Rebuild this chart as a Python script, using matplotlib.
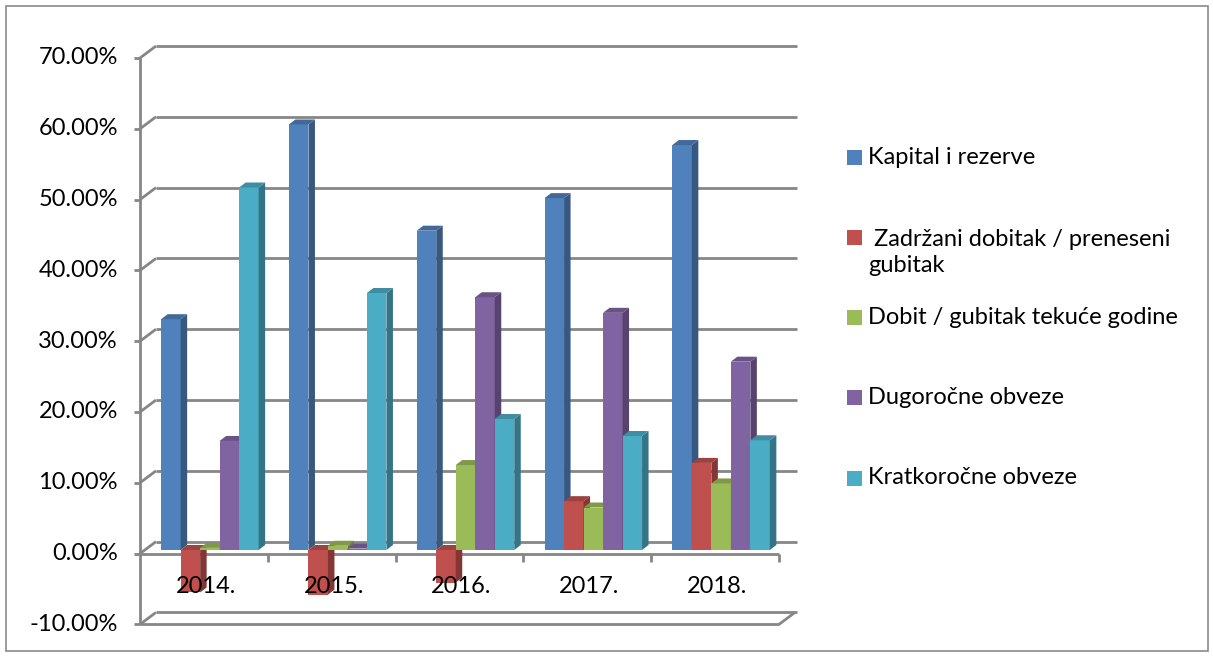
import matplotlib
matplotlib.use("Agg")
import matplotlib.pyplot as plt
from matplotlib.patches import Polygon, Rectangle
from matplotlib.colors import to_rgb

# data (percent)
years = ["2014.", "2015.", "2016.", "2017.", "2018."]
series_names = ["Kapital i rezerve",
                " Zadržani dobitak / preneseni\ngubitak",
                "Dobit / gubitak tekuće godine",
                "Dugoročne obveze",
                "Kratkoročne obveze"]
kapital = [32.6, 60.1, 45.1, 49.7, 57.2]
zadrzani = [-6.0, -6.3, -4.6, 6.9, 12.3]
dobit = [0.3, 0.6, 12.0, 6.0, 9.4]
dugorocne = [15.4, 0.2, 35.7, 33.5, 26.6]
kratkorocne = [51.2, 36.3, 18.5, 16.1, 15.5]
colors = ["#4F81BD", "#C0504D", "#9BBB59", "#8064A2", "#4BACC6"]
yticks = list(range(-10, 71, 10))

series = [kapital, zadrzani, dobit, dugorocne, kratkorocne]

plt.rcParams["font.family"] = ["Lato", "DejaVu Sans"]
FS = 17
TXT = "#000000"

W, H = 1213, 657
fig = plt.figure(figsize=(W / 100, H / 100), dpi=100)

# front plot area in pixels
left_px, right_px, top_px, bot_px = 140, 779, 58, 624.4
ax = fig.add_axes([left_px / W, (H - bot_px) / H,
                   (right_px - left_px) / W, (bot_px - top_px) / H])
ax.set_xlim(-0.5, 4.5)
ax.set_ylim(-10, 70)
ax.axis("off")

ppx = (right_px - left_px) / 5.0      # px per category
ppy = (bot_px - top_px) / 80.0        # px per percent


def ux(px):
    return px / ppx


def uy(px):
    return px / ppy


grid_kw = dict(color="#868686", lw=2.0, clip_on=False, solid_capstyle="butt")

# walls: back offset
bx, by = ux(16), uy(12)
x0, x1 = -0.5, 4.5
for v in yticks:
    ax.plot([x0, x0 + bx], [v, v + by], zorder=1, **grid_kw)
    ax.plot([x0 + bx, x1 + bx + ux(2)], [v + by, v + by], zorder=1, **grid_kw)
    ax.plot([x0 - ux(6), x0], [v, v], zorder=1, **grid_kw)
    ax.text(x0 - ux(22), v, f"{v:.2f}%", ha="right", va="center",
            fontsize=FS, color=TXT)

# vertical axis line
ax.plot([x0, x0], [-10, 70], zorder=1, **grid_kw)
# floor at -10
ax.plot([x0, x1], [-10, -10], zorder=1, **grid_kw)
ax.plot([x1, x1 + bx], [-10, -10 + by], zorder=1, **grid_kw)
# front line at 0 with category ticks
ax.plot([x0, x1], [0, 0], zorder=2, **grid_kw)
for k in range(1, 6):
    ax.plot([x0 + k, x0 + k], [0, -uy(8)], zorder=2, **grid_kw)

# bars with a fake 3d look
bw = ux(19.5)
sx, sy = ux(6.5), uy(5)
shift_x, shift_y = ux(6), uy(3.6)
n = len(series)
z = 3
for i, year in enumerate(years):
    for j, vals in enumerate(series):
        v = vals[i]
        c = to_rgb(colors[j])
        side = tuple(ch * 0.68 for ch in c)
        topc = tuple(ch * 0.82 for ch in c)
        xl = i - n * bw / 2 + j * bw + shift_x
        base = shift_y
        bars = ax.bar(xl, v, width=bw, bottom=base, align="edge",
                      color=colors[j], linewidth=0, zorder=z)
        r = bars[0]
        xr = r.get_x() + r.get_width()
        lo = min(base, base + v)
        hi = max(base, base + v)
        ax.add_patch(Polygon([(xr, lo), (xr + sx, lo + sy), (xr + sx, hi + sy), (xr, hi)],
                             closed=True, facecolor=side, edgecolor="none", zorder=z))
        ax.add_patch(Polygon([(r.get_x(), hi), (xr, hi), (xr + sx, hi + sy),
                              (r.get_x() + sx, hi + sy)],
                             closed=True, facecolor=topc, edgecolor="none", zorder=z))
        z += 0.01

for i, year in enumerate(years):
    ax.text(i + ux(2), -uy(33), year, ha="center", va="center",
            fontsize=FS, color=TXT, zorder=10)

# legend, drawn by hand
leg_y = [157, 237, 317, 397, 478]
for name, col, yp in zip(series_names, colors, leg_y):
    fig.patches.append(Rectangle((847 / W, (H - yp - 7.5) / H), 15 / W, 15 / H,
                                 transform=fig.transFigure, facecolor=col,
                                 edgecolor="none"))
    nlines = name.count("\n")
    yc = yp + nlines * 31 / 2
    fig.text(868 / W, (H - yc) / H, name, ha="left", va="center",
             fontsize=FS, linespacing=1.3, color=TXT)

# outer chart border
fig.patches.append(Rectangle((6 / W, 6 / H), 1202 / W, 645 / H,
                             transform=fig.transFigure, fill=False,
                             edgecolor="#8a8a8a", lw=1.2))

fig.savefig("out.png", dpi=100)
